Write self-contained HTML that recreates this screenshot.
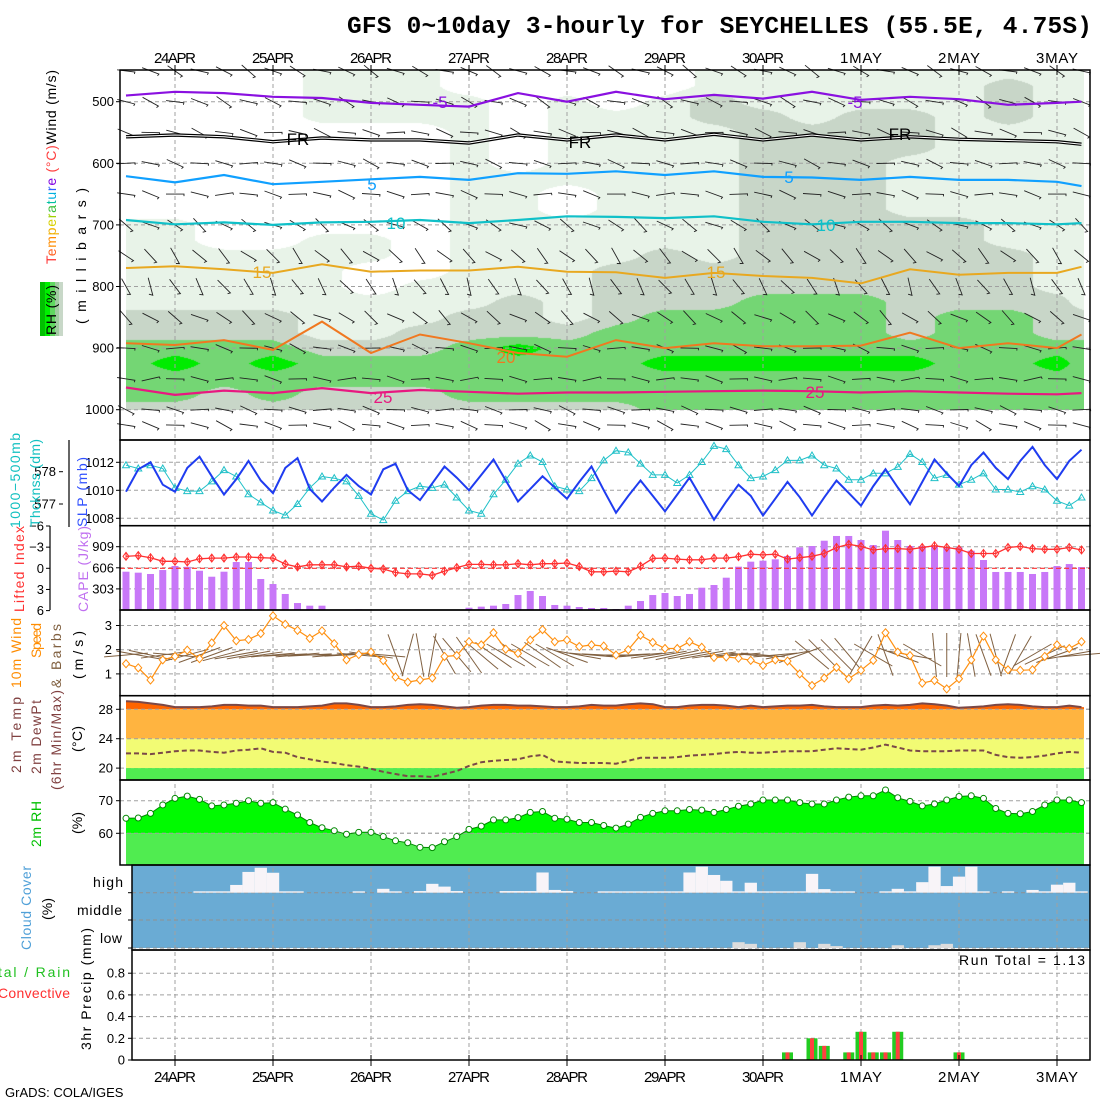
<!DOCTYPE html>
<html><head><meta charset="utf-8"><style>
html,body{margin:0;padding:0;background:#fff;}
#wrap{position:relative;width:1100px;height:1100px;overflow:hidden;background:#fff;}
#rhc{position:absolute;left:126px;top:70px;}
#chart{position:absolute;left:0;top:0;}
text{font-family:"Liberation Sans",sans-serif;}
</style></head><body>
<div id="wrap">
<canvas id="rhc" width="958" height="340"></canvas>
<svg id="chart" width="1100" height="1100" xmlns="http://www.w3.org/2000/svg">
<text x="347" y="33" font-weight="bold" font-size="24.5" textLength="745" style="font-family:'Liberation Mono',monospace">GFS 0~10day 3-hourly for SEYCHELLES (55.5E, 4.75S)</text>
<g id="layer"></g>
<g font-size="14">
<text transform="translate(56,264) rotate(-90)" textLength="194"><tspan fill="#ff3030">T</tspan><tspan fill="#ff6020">e</tspan><tspan fill="#ff8c00">m</tspan><tspan fill="#f0b000">p</tspan><tspan fill="#d8d000">e</tspan><tspan fill="#a0d000">r</tspan><tspan fill="#40c040">a</tspan><tspan fill="#00c0a0">t</tspan><tspan fill="#00b0e0">u</tspan><tspan fill="#3060ff">r</tspan><tspan fill="#8000e0">e</tspan><tspan fill="#ff4040"> (°C)</tspan><tspan fill="#000">Wind (m/s)</tspan></text>
<text transform="translate(86,324) rotate(-90)" textLength="136">(millibars)</text>
<rect x="40" y="282" width="5" height="54" fill="#00c000"/>
<rect x="45" y="282" width="5" height="54" fill="#00f000"/>
<rect x="50" y="282" width="5" height="54" fill="#60d860"/>
<rect x="55" y="282" width="4" height="54" fill="#a0cca0"/>
<rect x="59" y="282" width="4" height="54" fill="#c8d8c8"/>
<text transform="translate(56,335) rotate(-90)" textLength="50">RH (%)</text>
<text transform="translate(20,528) rotate(-90)" fill="#10c0c0" textLength="95">1000−500mb</text>
<text transform="translate(40,527) rotate(-90)" fill="#10c0c0" textLength="88">Thcknss (dm)</text>
<text transform="translate(87,527) rotate(-90)" fill="#3050ff" textLength="70">SLP (mb)</text>
<text transform="translate(24,612) rotate(-90)" fill="#ff3030" textLength="86">Lifted Index</text>
<text transform="translate(88,612) rotate(-90)" fill="#c070f0" textLength="86">CAPE (J/kg)</text>
<text transform="translate(21,688) rotate(-90)" fill="#ff8c00" textLength="70">10m Wind</text>
<text transform="translate(41,658) rotate(-90)" fill="#ff8c00" textLength="35">Speed</text>
<text transform="translate(61,688) rotate(-90)" fill="#806040" textLength="64">&amp; Barbs</text>
<text transform="translate(83,679) rotate(-90)" textLength="48">(m/s)</text>
<text transform="translate(21,773) rotate(-90)" fill="#804040" textLength="76">2m Temp</text>
<text transform="translate(41,774) rotate(-90)" fill="#804040" textLength="74">2m DewPt</text>
<text transform="translate(61,790) rotate(-90)" fill="#804040" textLength="100">(6hr Min/Max)</text>
<text transform="translate(82,752) rotate(-90)" textLength="26">(°C)</text>
<text transform="translate(41,847) rotate(-90)" fill="#00c000" textLength="46">2m RH</text>
<text transform="translate(82,834) rotate(-90)" textLength="22">(%)</text>
<text transform="translate(31,950) rotate(-90)" fill="#50a0d8" textLength="84">Cloud Cover</text>
<text transform="translate(52,920) rotate(-90)" textLength="22">(%)</text>
<text x="93" y="887" textLength="30">high</text>
<text x="77" y="915" textLength="45">middle</text>
<text x="100" y="943" textLength="22">low</text>
<text x="-2" y="977" fill="#20c020" textLength="72">tal / Rain</text>
<text x="-2" y="998" fill="#ff3030" textLength="72">Convective</text>
<text transform="translate(91,1050) rotate(-90)" textLength="122">3hr Precip (mm)</text>
<text x="5" y="1097" font-size="13">GrADS: COLA/IGES</text>
<text x="959" y="965" font-size="14" textLength="126">Run Total = 1.13</text>
</g>
</svg>
</div>
<script>
const dayLabels=["24APR","25APR","26APR","27APR","28APR","29APR","30APR","1MAY","2MAY","3MAY"];
const dayIdx=[4,12,20,28,36,44,52,60,68,76];
const slp=[1009.9,1011.5,1012.0,1010.4,1009.9,1011.6,1012.4,1011.0,1009.7,1010.8,1012.1,1010.7,1009.8,1011.6,1012.3,1010.1,1009.2,1010.2,1011.1,1010.3,1009.7,1011.5,1011.9,1010.0,1009.3,1010.5,1011.7,1010.9,1010.0,1011.1,1012.2,1010.7,1009.2,1010.1,1011.0,1010.2,1009.4,1010.6,1011.7,1010.0,1008.4,1009.6,1010.7,1009.6,1008.5,1009.7,1010.9,1009.4,1007.9,1009.2,1010.4,1009.6,1008.2,1009.4,1010.6,1009.5,1008.2,1009.5,1010.7,1009.8,1008.9,1010.3,1011.5,1010.2,1009.0,1010.6,1012.2,1011.2,1010.3,1011.8,1012.7,1011.6,1010.8,1012.1,1013.1,1011.8,1010.8,1012.1,1012.9];
const thick=[578.2,578.1,578.2,578.1,577.5,577.4,577.4,577.7,578.05,577.85,577.3,577.05,576.8,576.65,577.0,577.5,577.85,577.8,577.7,577.25,576.7,576.5,577.1,577.4,577.55,577.5,577.6,577.2,576.8,576.7,577.3,577.75,578.25,578.5,578.3,577.55,577.45,577.4,577.8,578.35,578.65,578.6,578.25,577.9,577.9,577.65,577.9,578.3,578.8,578.7,578.2,577.8,577.85,578.05,578.35,578.35,578.5,578.2,578.1,577.75,577.75,577.95,577.95,578.15,578.55,578.3,577.8,577.9,577.6,577.75,577.95,577.45,577.45,577.37,577.55,577.45,577.1,576.95,577.2];
const liftedIndex=[-1.7,-1.8,-1.5,-1.0,-1.0,-0.9,-1.35,-1.45,-1.45,-1.6,-1.6,-1.5,-1.45,-0.6,-0.2,-0.5,-0.5,-0.5,-0.2,-0.3,0,0.1,0.6,0.8,0.8,1.0,0.4,-0.1,-0.55,-0.55,-0.5,-0.5,-0.65,-0.5,-0.65,-0.65,-0.75,-0.25,0.5,0.5,0.4,0.5,-0.3,-1.4,-1.45,-1.3,-1.2,-1.2,-1.45,-1.45,-1.65,-2.0,-1.9,-2.0,-1.3,-1.5,-1.7,-2.1,-2.95,-3.4,-3.1,-2.6,-2.8,-2.8,-2.7,-2.95,-3.2,-2.95,-2.7,-2.1,-2.1,-2.1,-2.95,-3.1,-2.8,-2.7,-2.7,-2.95,-2.6];
const cape=[550,536,517,574,632,620,564,478,550,689,689,445,373,230,100,62,62,0,0,10,0,0,0,0,0,0,0,0,33,48,62,86,215,273,201,72,62,43,29,29,14,62,129,215,244,201,230,320,359,464,622,694,708,728,775,900,919,995,1063,1063,1005,933,1139,1005,919,919,919,900,900,852,718,546,546,546,517,546,632,660,617];
const windSpd=[1.42,1.25,0.75,1.58,1.72,1.98,1.63,2.28,3.0,2.37,2.42,2.67,3.4,3.05,2.8,2.47,2.78,2.25,1.58,1.8,1.9,1.55,0.87,0.66,0.75,0.83,1.72,1.76,2.33,2.2,2.7,2.02,1.85,2.4,2.83,2.33,2.4,2.13,2.2,2.15,1.78,2.0,2.6,2.3,2.05,2.05,2.33,2.1,1.68,1.7,1.65,1.56,1.35,1.58,1.53,1.0,0.52,0.83,1.27,0.8,1.15,1.56,2.7,1.9,1.76,0.62,0.73,0.38,0.8,1.58,2.56,1.58,1.17,1.15,1.17,1.72,2.2,2.05,2.33];
const windAng=[-5,10,12,-8,5,-15,-20,-20,-15,-10,-10,-8,-5,-3,-5,-3,0,-5,-3,5,8,5,70,-75,80,-80,60,50,55,40,35,30,35,30,35,30,20,10,5,3,0,-3,-5,-8,-10,-12,-10,-10,-8,-5,-5,5,5,-5,-10,-20,40,45,45,50,-60,30,70,20,10,30,85,90,95,80,70,75,-70,-60,-30,-25,-20,-10,-5];
const temp2m=[29.1,29.0,28.8,28.6,28.3,28.3,28.3,28.4,28.6,28.6,28.5,28.5,28.3,28.3,28.3,28.4,28.5,28.8,28.8,28.6,28.3,28.3,28.4,28.6,28.7,28.6,28.4,28.2,28.3,28.5,28.6,28.6,28.5,28.5,28.4,28.3,28.3,28.4,28.6,28.5,28.5,28.7,28.8,28.7,28.3,28.3,28.5,28.6,28.6,28.5,28.3,28.5,28.3,28.4,28.5,28.5,28.6,28.4,28.3,28.3,28.3,28.5,28.6,28.5,28.6,28.8,28.7,28.5,28.2,28.3,28.4,28.6,28.7,28.6,28.4,28.3,28.3,28.5,28.3];
const dew2m=[22.0,22.0,21.9,22.1,22.3,22.4,22.4,22.2,22.1,22.4,22.5,22.7,22.2,22.1,21.5,21.2,20.9,20.7,20.4,20.2,19.9,19.5,19.2,18.9,18.9,18.8,19.2,19.6,20.3,20.8,21.0,21.1,21.2,21.6,21.8,20.9,20.8,20.7,20.7,20.7,20.6,21.0,21.4,21.4,21.4,21.5,21.7,21.8,21.9,22.1,22.2,22.1,22.1,22.2,22.3,22.3,22.3,22.5,22.7,22.6,22.5,22.8,23.2,22.8,22.4,22.3,22.3,22.3,22.4,22.4,22.4,21.8,21.5,21.4,21.5,21.7,22.0,22.2,22.1];
const rh2m=[64.6,64.7,66.1,68.7,70.7,71.4,70.4,68.4,68.7,69.2,70.0,69.2,69.4,67.4,65.6,63.3,61.7,60.8,59.7,60.3,60.3,59.0,57.7,57.1,55.7,55.6,57.4,59.0,61.2,62.2,64.1,64.1,64.8,66.4,66.7,64.6,64.3,63.3,63.3,62.4,61.6,62.8,64.9,66.1,66.9,66.9,67.3,67.1,66.4,67.3,68.3,69.0,70.2,70.2,70.2,69.4,69.0,69.0,70.2,71.1,71.5,71.5,73.3,70.9,69.8,68.4,69.0,70.2,71.3,71.5,70.7,67.6,66.1,66.0,66.7,68.7,70.2,70.2,69.4];
const cloudHigh=[0,0,0,0,0,0,5,5,5,28,75,90,72,5,5,0,0,0,0,5,0,14,5,0,6,32,22,6,0,0,0,6,6,6,73,10,6,0,0,5,5,5,5,5,5,5,73,94,64,43,5,36,5,5,5,5,68,13,5,5,0,0,5,14,5,38,94,24,58,94,5,0,5,0,10,5,29,36,5];
const cloudLow=[0,0,0,0,0,0,0,0,0,0,0,0,0,0,0,0,0,0,0,0,0,0,0,0,0,0,0,0,0,0,0,0,0,0,0,0,0,0,0,0,0,0,0,0,0,0,0,0,0,0,21,15,0,0,0,21,0,15,7,0,0,0,0,10,0,0,10,15,0,0,0,0,0,0,0,0,0,0,0];
const precipTotal=[0,0,0,0,0,0,0,0,0,0,0,0,0,0,0,0,0,0,0,0,0,0,0,0,0,0,0,0,0,0,0,0,0,0,0,0,0,0,0,0,0,0,0,0,0,0,0,0,0,0,0,0,0,0,0.07,0,0.2,0.13,0,0.07,0.26,0.07,0.07,0.26,0,0,0,0,0.07,0,0,0,0,0,0,0,0,0,0];
const precipConv=[0,0,0,0,0,0,0,0,0,0,0,0,0,0,0,0,0,0,0,0,0,0,0,0,0,0,0,0,0,0,0,0,0,0,0,0,0,0,0,0,0,0,0,0,0,0,0,0,0,0,0,0,0,0,0.07,0,0.2,0.13,0,0.07,0.26,0.07,0.07,0.26,0,0,0,0,0.07,0,0,0,0,0,0,0,0,0,0];
const contourIdx=[0,4,8,12,16,20,24,28,32,36,40,44,48,52,56,60,64,68,72,76,78];
const isoM5=[490,484,486,492,494,502,505,508,486,500,484,496,489,495,484,497,492,496,505,502,500];
const isoFR=[557,554,557,565,559,562,562,567,554,562,554,562,553,562,554,562,557,561,563,565,569];
const iso5=[621,631,619,634,630,626,622,627,616,617,613,619,613,622,623,627,622,627,627,630,637];
const iso10=[692,699,696,700,696,695,692,697,692,686,687,689,686,695,699,695,695,697,697,699,697];
const iso15=[770,767,772,778,764,776,774,774,768,776,777,786,778,783,786,795,772,781,778,778,768];
const iso20=[892,895,887,903,857,908,878,892,908,914,887,900,892,897,897,896,875,900,892,900,878];
const iso25=[964,976,969,973,965,973,968,971,974,972,972,971,970,969,970,972,970,972,974,975,973];
const rhCols=["WWWWWWWWWWLLLLLLGGNNNNG","WWWWWWWWWWLLLLLLGGNBNNG","WWWWWWWWWWWWLLLLGGNNNGG","WWWWWWWWWWWWLLLLGGNBNNG","LLLLWWWWWWWLLLLLLLGNNGG","LLLLWWWWWWWLLWWLLLGNNGG","LLLLWWWWWWWWWWLLLGGNNGG","WWLLLLLLLLLLLLLLGGNNNNG","WWWWWWWLLLLLLLLGGGBNNNG","WWLLLLLLWWLLLLLLLGNNNNG","WWWLLLLLLLLLLGGGGNNNNNG","WWLLLLLLLLLLGGGGNNNBNNN","LLGGLLLLLLLLLGGGNNNBNNN","LLLGGGGGGGGGGGGNNNNBNNN","LLLLGGGGGGGGGGGNNNNBNNN","LLLGGGGGGGGGGGGNNNNBNNN","LLLGGGLLLLGGGGGGGGNBNNN","LLLLLLLLLLGGGGGGNNNNNNN","LGGGLLLLLLLLGGGGNNNNNNN","LLLLLLLLLLLLLLLGGGNBNNN","LLLLLLLLLLLLLLLLGGNNNNN"];
const barbLevels=[450,500,550,600,650,700,750,800,850,900,950,1000,1025];
const barbAngles=[25,20,15,12,10,30,45,60,35,12,5,10,15];

const xOf=i=>126+12.25*i;
const yP=p=>101.7+(p-500)*0.616;
const ySLP=v=>490.3-(v-1010)*14;
const yThk=v=>471.7-(v-578)*32.3;
const yLI=v=>568.3+v*7.05;
const yCAPE=v=>610-v*21.1/303;
const yWS=v=>649.7-(v-2)*24.2;
const yT=v=>709.3-(v-28)*7.35;
const yRH=v=>833.3-(v-60)*3.26;
const yPr=v=>1060-v*108.5;
const NS="http://www.w3.org/2000/svg";
const layer=document.getElementById('layer');
function mk(tag,attrs,parent){const e=document.createElementNS(NS,tag);for(const k in attrs)e.setAttribute(k,attrs[k]);(parent||layer).appendChild(e);return e;}
const pts=(arr,yf)=>arr.map((v,i)=>xOf(i).toFixed(1)+','+yf(v).toFixed(1)).join(' ');

(function(){
 const cv=document.getElementById('rhc');const ctx=cv.getContext('2d');
 const W=cv.width,H=cv.height;const img=ctx.createImageData(W,H);
 const val={W:15,L:40,G:60,N:80,B:100};
 const grid=rhCols.map(s=>s.split('').map(c=>val[c]));
 for(let py=0;py<H;py++){
  const p=500+((70+py+0.5)-101.7)/0.616;
  let lf=(p-450)/25; if(lf<0)lf=0; if(lf>22)lf=22;
  const l0=Math.min(21,Math.floor(lf)), lt=lf-l0;
  for(let px=0;px<W;px++){
   const fi=px/12.25; let c0=0;
   while(c0<contourIdx.length-2&&contourIdx[c0+1]<=fi)c0++;
   let ct=(fi-contourIdx[c0])/(contourIdx[c0+1]-contourIdx[c0]); if(ct>1)ct=1;
   const a=grid[c0][l0]*(1-lt)+grid[c0][l0+1]*lt;
   const b=grid[c0+1][l0]*(1-lt)+grid[c0+1][l0+1]*lt;
   const v=a*(1-ct)+b*ct;
   let col;
   if(v<30)col=[255,255,255];else if(v<50)col=[232,243,232];else if(v<70)col=[200,214,200];else if(v<90)col=[116,214,116];else col=[0,236,0];
   const k=(py*W+px)*4;img.data[k]=col[0];img.data[k+1]=col[1];img.data[k+2]=col[2];img.data[k+3]=(p>1001)?0:255;
  }
 }
 ctx.putImageData(img,0,0);
})();

let e;
e=mk('rect',{x:132,y:865,width:958,height:83,fill:'#6aabd4'});



const G='#a0a0a0';
dayIdx.forEach((d,k)=>{
 const x=xOf(d);
 e=mk('line',{x1:x,y1:70,x2:x,y2:1060,stroke:G,'stroke-dasharray':'4,3','stroke-width':1});
 
 
});
const hg=[[500,600,700,800,900,1000].map(yP),[1012,1010,1008].map(ySLP),[909,606,303].map(yCAPE),[3,2,1].map(yWS),[28,24,20].map(yT),[70,60].map(yRH),[892.7,920,948],[0.8,0.6,0.4,0.2].map(yPr)];
hg.forEach((arr,pi)=>arr.forEach(y=>{
 e=mk('line',{x1:pi>=6?132:120,y1:y,x2:1090,y2:y,stroke:pi==6?'#909090':G,'stroke-dasharray':'4,3','stroke-width':1});
 
 
}));

for(let i=0;i<79;i+=2){
 barbLevels.forEach((p,k)=>{
  const a=(barbAngles[k]+((i*7+k*13)%36-18))*Math.PI/180;
  const cx=xOf(i),cy=yP(p),L=9;
  const x1=cx-Math.cos(a)*L,y1=cy-Math.sin(a)*L,x2=cx+Math.cos(a)*L,y2=cy+Math.sin(a)*L;
  e=mk('path',{d:`M${x1.toFixed(1)},${y1.toFixed(1)}L${x2.toFixed(1)},${y2.toFixed(1)}l${(-Math.sin(a)*4).toFixed(1)},${(Math.cos(a)*4-2).toFixed(1)}`,stroke:'#222',fill:'none','stroke-width':0.9});
  
  
 });
}
function iso(arr,color,w,name){
 const s=arr.map((p,k)=>xOf(contourIdx[k]).toFixed(1)+','+yP(p).toFixed(1)).join(' ');
 e=mk('polyline',{points:s,fill:'none',stroke:color,'stroke-width':w});
 
 
 return s;
}
iso(isoM5,'#8a10e0',2.2,'isotherm-minus5');
const frs=iso(isoFR,'#000',3.4,'isotherm-freezing');
e=mk('polyline',{points:frs,fill:'none',stroke:'#fff','stroke-width':1});


iso(iso5,'#10a0ff',2.2,'isotherm-5');
iso(iso10,'#10c0c8',2.2,'isotherm-10');
iso(iso15,'#e8a820',2,'isotherm-15');
iso(iso20,'#f07820',2,'isotherm-20');
iso(iso25,'#e81880',2.2,'isotherm-25');
const isoLabels=[["-5",440,108,'#8a10e0'],["-5",855,108,'#8a10e0'],["FR",298,145,'#000'],["FR",580,148,'#000'],["FR",900,140,'#000'],["5",372,190,'#10a0ff'],["5",789,183,'#10a0ff'],["10",396,229,'#10c0c8'],["10",826,231,'#10c0c8'],["15",262,278,'#e8a820'],["15",716,278,'#e8a820'],["20",506,363,'#f07820'],["25",383,403,'#e81880'],["25",815,398,'#e81880']];
isoLabels.forEach(l=>{
 e=mk('text',{x:l[1],y:l[2],fill:l[3],'font-size':17,'text-anchor':'middle'});e.textContent=l[0];
 
 
});

e=mk('polyline',{points:pts(thick,yThk),fill:'none',stroke:'#20c0c8','stroke-width':1});


thick.forEach((v,i)=>{const x=xOf(i),y=yThk(v);
 e=mk('path',{d:`M${x},${y-3.5}L${x+3.5},${y+2.5}L${x-3.5},${y+2.5}Z`,fill:'none',stroke:'#20c0c8','stroke-width':1});
 
 
});
e=mk('polyline',{points:pts(slp,ySLP),fill:'none',stroke:'#1f3cf0','stroke-width':2});



cape.forEach((v,i)=>{ if(v<=0)return;
 e=mk('rect',{x:xOf(i)-3.5,y:yCAPE(v),width:7,height:610-yCAPE(v),fill:'#c878f8'});
 
 
});
e=mk('line',{x1:120,y1:yLI(0),x2:1090,y2:yLI(0),stroke:'#ff3030','stroke-dasharray':'5,3','stroke-width':1.2});


e=mk('polyline',{points:pts(liftedIndex,yLI),fill:'none',stroke:'#ff3030','stroke-width':1.3});


liftedIndex.forEach((v,i)=>{const x=xOf(i),y=yLI(v);
 e=mk('path',{d:`M${x},${y-4}L${x+3},${y}L${x},${y+4}L${x-3},${y}ZM${x},${y-4}V${y+4}`,fill:'none',stroke:'#ff3030','stroke-width':1});
 
 
});

windAng.forEach((a,i)=>{const r=a*Math.PI/180,x=xOf(i),y=655,L=22;
 e=mk('line',{x1:x-Math.cos(r)*L,y1:y-Math.sin(r)*L,x2:x+Math.cos(r)*L,y2:y+Math.sin(r)*L,stroke:'#806040','stroke-width':1});
 
 
});
e=mk('polyline',{points:pts(windSpd,yWS),fill:'none',stroke:'#ff9010','stroke-width':1.2});


windSpd.forEach((v,i)=>{const x=xOf(i),y=yWS(v);
 e=mk('path',{d:`M${x},${y-4}L${x+3.5},${y}L${x},${y+4}L${x-3.5},${y}Z`,fill:'#fff',stroke:'#ff9010','stroke-width':1});
 
 
});

const defs=mk('defs',{});
const tpoly=`126,780 ${pts(temp2m,yT)} ${xOf(78)+2.5},${yT(temp2m[78])} ${xOf(78)+2.5},780`;
const cp=mk('clipPath',{id:'tclip'},defs);mk('polygon',{points:tpoly},cp);
const tg=mk('g',{'clip-path':'url(#tclip)'});


[[30,28,'#ff6400'],[28,24,'#ffb440'],[24,20,'#f2fb74'],[20,10,'#50ec50']].forEach(b=>{
 e=mk('rect',{x:120,y:yT(b[0]),width:970,height:yT(b[1])-yT(b[0]),fill:b[2]},tg);
 
 
});
e=mk('polyline',{points:pts(temp2m,yT),fill:'none',stroke:'#7a4848','stroke-width':2});


[[28,24],[24,20]].forEach(b=>{const y=yT(b[0]);
 e=mk('line',{x1:120,y1:y,x2:1090,y2:y,stroke:G,'stroke-dasharray':'4,3'});
 
 
});
e=mk('polyline',{points:pts(dew2m,yT),fill:'none',stroke:'#7a4848','stroke-width':2,'stroke-dasharray':'5,3'});



const rpoly=`126,865 ${pts(rh2m,yRH)} ${xOf(78)+2.5},${yRH(rh2m[78])} ${xOf(78)+2.5},865`;
const cp2=mk('clipPath',{id:'rclip'},defs);mk('polygon',{points:rpoly},cp2);
const rg=mk('g',{'clip-path':'url(#rclip)'});


e=mk('rect',{x:120,y:780,width:970,height:yRH(60)-780,fill:'#00fa00'},rg);


e=mk('rect',{x:120,y:yRH(60),width:970,height:865-yRH(60),fill:'#50ec50'},rg);


e=mk('line',{x1:120,y1:yRH(60),x2:1090,y2:yRH(60),stroke:G,'stroke-dasharray':'4,3'});


e=mk('polyline',{points:pts(rh2m,yRH),fill:'none',stroke:'#008800','stroke-width':1});


rh2m.forEach((v,i)=>{
 e=mk('circle',{cx:xOf(i),cy:yRH(v),r:3,fill:'#fff',stroke:'#008800','stroke-width':1});
 
 
});

cloudHigh.forEach((v,i)=>{ if(v<=0)return; const h=v*27.7/100;
 e=mk('rect',{x:xOf(i)-6.1,y:892.7-h,width:12.3,height:h,fill:'#f8f4f8'});
 
 
});
cloudLow.forEach((v,i)=>{ if(v<=0)return; const h=v*27.7/100;
 e=mk('rect',{x:xOf(i)-6.1,y:948-h,width:12.3,height:h,fill:'#dcdcdc'});
 
 
});

precipTotal.forEach((v,i)=>{ if(v<=0)return;
 e=mk('rect',{x:xOf(i)-5.5,y:yPr(v),width:11,height:1060-yPr(v),fill:'#22cc22'});
 
 
});
precipConv.forEach((v,i)=>{ if(v<=0)return;
 e=mk('rect',{x:xOf(i)-2,y:yPr(v),width:4,height:1060-yPr(v),fill:'#ff4040'});
 
 
});

[[120,70,970,370],[120,440,970,85.7],[120,525.7,970,84.3],[120,610,970,85.7],[120,695.7,970,84.3],[120,780,970,85],[132,865,958,85],[132,950,958,110]].forEach(f=>{
 e=mk('rect',{x:f[0],y:f[1],width:f[2],height:f[3],fill:'none',stroke:'#000','stroke-width':1.5});
 
 
});
e=mk('line',{x1:69,y1:440,x2:69,y2:527,stroke:'#000','stroke-width':1.2});


e=mk('line',{x1:50,y1:526,x2:50,y2:610,stroke:'#000','stroke-width':1.2});



function tick(txt,x,y,name,anchor){
 e=mk('text',{x:x,y:y+4.5,'font-size':13,'text-anchor':anchor||'end'});e.textContent=txt;
 
 
}
function tmark(x1,x2,y){e=mk('line',{x1:x1,y1:y,x2:x2,y2:y,stroke:'#000'});
 
 }
const pTicks=[500,600,700,800,900,1000];
pTicks.forEach(p=>{tick(String(p),114,yP(p),'pressure-tick');tmark(116,120,yP(p));});
const slpTicks=[1012,1010,1008];
slpTicks.forEach(v=>{tick(String(v),114,ySLP(v),'slp-tick');tmark(116,120,ySLP(v));});
const thkTicks=[578,577];
thkTicks.forEach(v=>{tick(String(v),56,yThk(v),'thickness-tick');tmark(59,63,yThk(v));});
const liTicks=[-6,-3,0,3,6];
liTicks.forEach(v=>{tick(v<0?'−'+(-v):String(v),44,yLI(v),'li-tick');tmark(46,50,yLI(v));});
const capeTicks=[909,606,303];
capeTicks.forEach(v=>{tick(String(v),114,yCAPE(v),'cape-tick');tmark(116,120,yCAPE(v));});
const wsTicks=[3,2,1];
wsTicks.forEach(v=>{tick(String(v),112,yWS(v),'wind-tick');tmark(116,120,yWS(v));});
const tTicks=[28,24,20];
tTicks.forEach(v=>{tick(String(v),113,yT(v),'temp-tick');tmark(116,120,yT(v));});
const rhTicks=[70,60];
rhTicks.forEach(v=>{tick(String(v),113,yRH(v),'rh-tick');tmark(116,120,yRH(v));});
[892.7,920,948].forEach(y=>tmark(128,132,y));
const prTicks=[0.8,0.6,0.4,0.2,0];
prTicks.forEach(v=>{tick(v===0?'0':String(v),125,yPr(v),'precip-tick');tmark(128,132,yPr(v));});
dayIdx.forEach((d,k)=>{const x=xOf(d);
 e=mk('text',{x:x,y:63,'font-size':15,'text-anchor':'middle',textLength:42});e.textContent=dayLabels[k];
 
 
 e=mk('text',{x:x,y:1082,'font-size':15,'text-anchor':'middle',textLength:42});e.textContent=dayLabels[k];
 
 
 e=mk('line',{x1:x,y1:65,x2:x,y2:75,stroke:'#000'});
 
 
 e=mk('line',{x1:x,y1:1055,x2:x,y2:1066,stroke:'#000'});
 
 
});
</script>
</body></html>
